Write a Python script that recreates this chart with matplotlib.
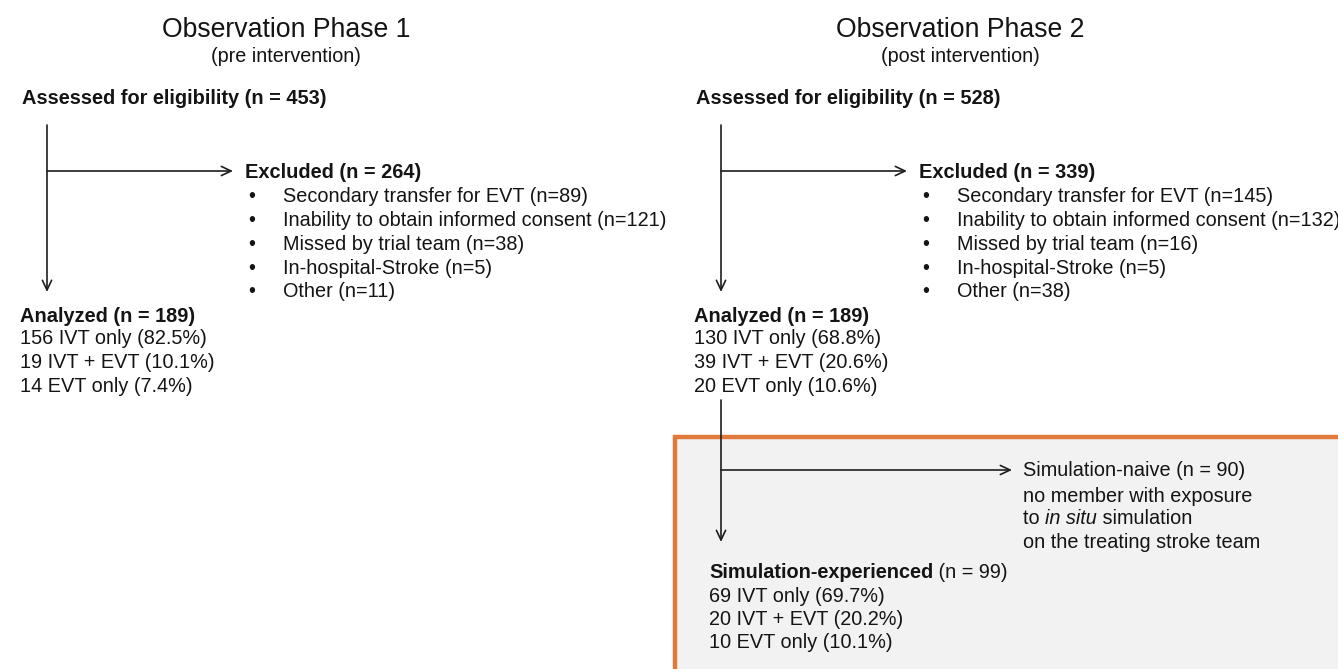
import matplotlib
matplotlib.use("Agg")
import matplotlib.pyplot as plt
from matplotlib.patches import Rectangle

plt.rcParams['font.family'] = ['Liberation Sans', 'DejaVu Sans']

# ---------------- data ----------------
phase_titles = ["Observation Phase 1", "Observation Phase 2"]
phase_subtitles = ["(pre intervention)", "(post intervention)"]
assessed_n = [453, 528]
excluded_n = [264, 339]
exclusion_reasons = ["Secondary transfer for EVT", "Inability to obtain informed consent",
                     "Missed by trial team", "In-hospital-Stroke", "Other"]
exclusion_counts = [[89, 121, 38, 5, 11], [145, 132, 16, 5, 38]]
analyzed_n = [189, 189]
treatment_labels = ["IVT only", "IVT + EVT", "EVT only"]
treatment_counts = [[156, 19, 14], [130, 39, 20]]
treatment_pct = [[82.5, 10.1, 7.4], [68.8, 20.6, 10.6]]
naive_n = 90
naive_desc = ["no member with exposure", ("to ", "in situ", " simulation"), "on the treating stroke team"]
experienced_n = 99
experienced_counts = [69, 20, 10]
experienced_pct = [69.7, 20.2, 10.1]

# ---------------- figure ----------------
W, H = 1338, 669
fig = plt.figure(figsize=(W / 100, H / 100), dpi=100)
ax = fig.add_axes([0, 0, 1, 1])
ax.set_xlim(0, W)
ax.set_ylim(H, 0)
ax.axis('off')

TXT = '#141414'
LINE = '#1e1e1e'
FS = 14.3
FS_B = 14.45

def arrow(x0, y0, x1, y1):
    ax.annotate('', xy=(x1, y1), xytext=(x0, y0),
                arrowprops=dict(arrowstyle='->,head_length=0.7,head_width=0.33',
                                color=LINE, lw=1.2, shrinkA=0, shrinkB=0),
                zorder=5)

renderer = fig.canvas.get_renderer()

def pieces(x, y, parts, size=FS):
    """parts: list of (text, weight, style)"""
    cx = x
    for txt, weight, style in parts:
        t = ax.text(cx, y, txt, fontsize=size, fontweight=weight, fontstyle=style,
                    color=TXT, va='center', ha='left', zorder=6)
        bb = t.get_window_extent(renderer=renderer)
        cx += bb.width

# orange box (phase 2 sub-analysis)
ax.add_patch(Rectangle((675, 437), 700, 260, facecolor='#f2f2f2',
                       edgecolor='#e07a3c', lw=3.2, zorder=1))

offsets = [0, 674]
for i, dx in enumerate(offsets):
    cx = 286 + dx
    ax.text(cx, 30, phase_titles[i], fontsize=19.2, ha='center', va='center', color=TXT)
    ax.text(cx, 56, phase_subtitles[i], fontsize=14.2, ha='center', va='center', color=TXT)
    ax.text(22 + dx, 99, f"Assessed for eligibility (n = {assessed_n[i]})",
            fontsize=FS_B, fontweight='bold', ha='left', va='center', color=TXT)
    vx = 47 + dx
    arrow(vx, 125, vx, 292)
    arrow(vx, 171, 233 + dx, 171)
    ax.text(245 + dx, 172, f"Excluded (n = {excluded_n[i]})", fontsize=FS_B,
            fontweight='bold', ha='left', va='center', color=TXT)
    for k, (r, c) in enumerate(zip(exclusion_reasons, exclusion_counts[i])):
        yy = 197 + k * 23.7
        ax.text(248 + dx, yy, "•", fontsize=FS, ha='left', va='center', color=TXT)
        ax.text(283 + dx, yy, f"{r} (n={c})", fontsize=FS, ha='left', va='center', color=TXT)
    ax.text(20 + dx, 316, f"Analyzed (n = {analyzed_n[i]})", fontsize=FS_B,
            fontweight='bold', ha='left', va='center', color=TXT)
    for k, (lab, c, p) in enumerate(zip(treatment_labels, treatment_counts[i], treatment_pct[i])):
        ax.text(20 + dx, 339 + k * 23.5, f"{c} {lab} ({p:.1f}%)", fontsize=FS,
                ha='left', va='center', color=TXT)

# sub-analysis flow
arrow(721, 400, 721, 542)
arrow(721, 470, 1012, 470)
ax.text(1023, 470, f"Simulation-naive (n = {naive_n})", fontsize=FS, ha='left', va='center', color=TXT)
ax.text(1023, 496, naive_desc[0], fontsize=FS, ha='left', va='center', color=TXT)
pieces(1023, 519, [(naive_desc[1][0], 'normal', 'normal'),
                   (naive_desc[1][1], 'normal', 'italic'),
                   (naive_desc[1][2], 'normal', 'normal')])
ax.text(1023, 542, naive_desc[2], fontsize=FS, ha='left', va='center', color=TXT)

pieces(709, 572, [("Simulation-experienced", 'bold', 'normal'),
                  (f" (n = {experienced_n})", 'normal', 'normal')])
for k, (lab, c, p) in enumerate(zip(treatment_labels, experienced_counts, experienced_pct)):
    ax.text(709, 596 + k * 23.5, f"{c} {lab} ({p:.1f}%)", fontsize=FS,
            ha='left', va='center', color=TXT)

fig.savefig("out.png", dpi=100)
